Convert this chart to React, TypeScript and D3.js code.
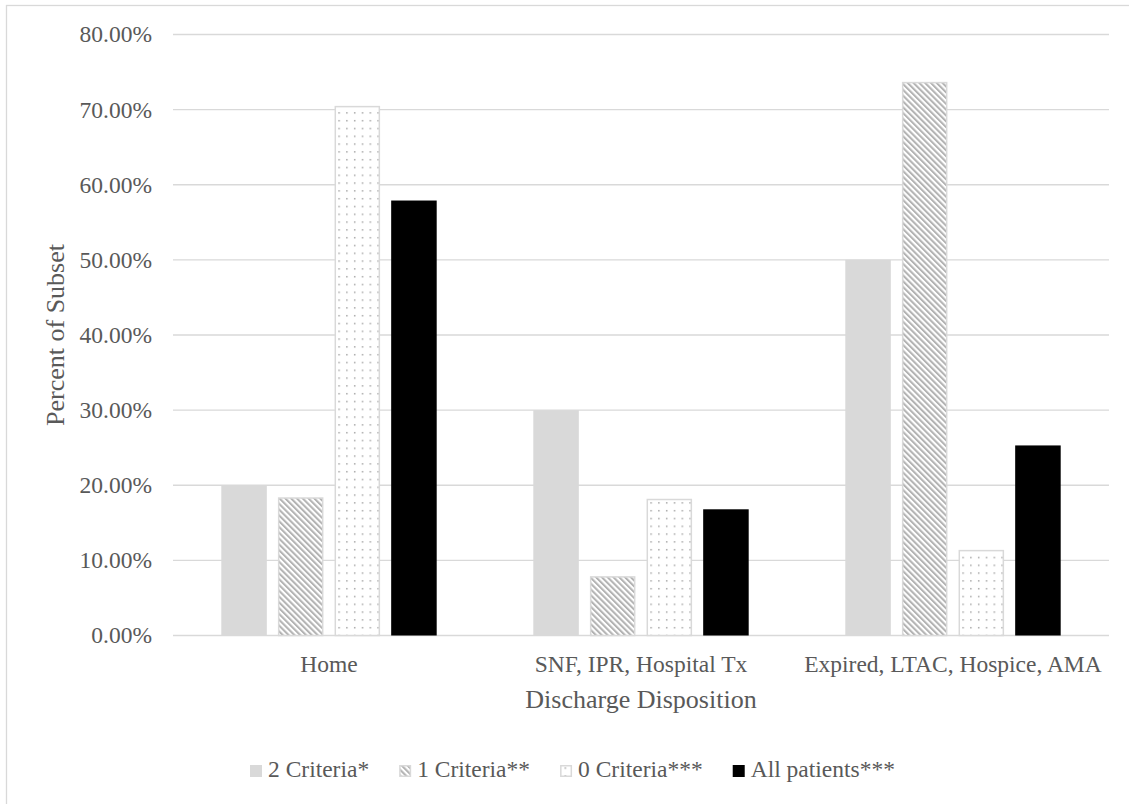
import React, { useEffect, useRef } from "react";
import * as d3 from "d3";

// Discharge disposition by number of criteria met (percent of each subset)
const categories = ["Home", "SNF, IPR, Hospital Tx", "Expired, LTAC, Hospice, AMA"];
const seriesNames = ["2 Criteria*", "1 Criteria**", "0 Criteria***", "All patients***"];
const twoCriteria = [20.0, 30.0, 50.0];
const oneCriteria = [18.4, 7.9, 73.7];
const zeroCriteria = [70.5, 18.2, 11.4];
const allPatients = [57.9, 16.8, 25.3];
const yTicks = [0, 10, 20, 30, 40, 50, 60, 70, 80];

const W = 1129;
const H = 804;
const FONT = '"Liberation Serif", "Times New Roman", serif';
const TEXT = "#595959";
const GRID = "#d9d9d9";

export default function App() {
  const ref = useRef<SVGSVGElement>(null);

  useEffect(() => {
    const svg = d3.select(ref.current);
    svg.selectAll("*").remove();

    const left = 173;
    const right = 1109;
    const top = 34.5;
    const bottom = 635.5;

    const values = [twoCriteria, oneCriteria, zeroCriteria, allPatients];

    // fill patterns
    const defs = svg.append("defs");
    const diag = defs
      .append("pattern")
      .attr("id", "diag")
      .attr("patternUnits", "userSpaceOnUse")
      .attr("width", 4.1)
      .attr("height", 4.1)
      .attr("patternTransform", "rotate(-45)");
    diag.append("rect").attr("width", 4.1).attr("height", 4.1).attr("fill", "#fff");
    diag.append("rect").attr("width", 2.05).attr("height", 4.1).attr("fill", "#b3b3b3");

    const dots = defs
      .append("pattern")
      .attr("id", "dots")
      .attr("patternUnits", "userSpaceOnUse")
      .attr("width", 7.8)
      .attr("height", 7.8);
    dots.append("rect").attr("width", 7.8).attr("height", 7.8).attr("fill", "#fff");
    dots.append("rect").attr("x", 3).attr("y", 3).attr("width", 1.4).attr("height", 1.4).attr("fill", "#9a9a9a");

    const fills = ["#d9d9d9", "url(#diag)", "url(#dots)", "#000"];
    const strokes = ["none", GRID, GRID, "none"];

    // chart frame
    svg
      .append("rect")
      .attr("x", 6.5)
      .attr("y", 5.5)
      .attr("width", W + 20)
      .attr("height", H + 20)
      .attr("fill", "#fff")
      .attr("stroke", GRID)
      .attr("stroke-width", 1.3);

    const y = d3.scaleLinear().domain([0, 80]).range([bottom, top]);
    const x0 = d3.scaleBand<string>().domain(categories).range([left, right]).padding(0);
    const x1 = d3
      .scaleBand<string>()
      .domain(seriesNames)
      .range([0, x0.bandwidth()])
      .paddingInner(0.196)
      .paddingOuter(0.853);

    // gridlines
    svg
      .append("g")
      .selectAll("line")
      .data(yTicks)
      .join("line")
      .attr("x1", left)
      .attr("x2", right)
      .attr("y1", (d) => y(d))
      .attr("y2", (d) => y(d))
      .attr("stroke", GRID)
      .attr("stroke-width", 1.3);

    // y tick labels
    svg
      .append("g")
      .selectAll("text")
      .data(yTicks)
      .join("text")
      .attr("x", 152)
      .attr("y", (d) => y(d))
      .attr("dy", "0.34em")
      .attr("text-anchor", "end")
      .attr("font-family", FONT)
      .attr("font-size", 23.5)
      .attr("fill", TEXT)
      .text((d) => d3.format(".2f")(d) + "%");

    // bars
    seriesNames.forEach((s, si) => {
      svg
        .append("g")
        .selectAll("rect")
        .data(categories.map((c, ci) => ({ c, v: values[si][ci] })))
        .join("rect")
        .attr("x", (d) => (x0(d.c) as number) + (x1(s) as number) + (strokes[si] === "none" ? 0 : 0.75))
        .attr("y", (d) => y(d.v) + (strokes[si] === "none" ? 0 : 0.75))
        .attr("width", x1.bandwidth() - (strokes[si] === "none" ? 0 : 1.5))
        .attr("height", (d) => bottom - y(d.v) - (strokes[si] === "none" ? 0 : 0.75))
        .attr("fill", fills[si])
        .attr("stroke", strokes[si])
        .attr("stroke-width", 1.5);
    });

    // category labels
    svg
      .append("g")
      .selectAll("text")
      .data(categories)
      .join("text")
      .attr("x", (d) => (x0(d) as number) + x0.bandwidth() / 2)
      .attr("y", 672)
      .attr("text-anchor", "middle")
      .attr("font-family", FONT)
      .attr("font-size", 23.5)
      .attr("fill", TEXT)
      .text((d) => d);

    // axis titles
    svg
      .append("text")
      .attr("x", (left + right) / 2)
      .attr("y", 708)
      .attr("text-anchor", "middle")
      .attr("font-family", FONT)
      .attr("font-size", 26)
      .attr("fill", TEXT)
      .text("Discharge Disposition");

    svg
      .append("text")
      .attr("transform", `translate(64,${(top + bottom) / 2}) rotate(-90)`)
      .attr("text-anchor", "middle")
      .attr("font-family", FONT)
      .attr("font-size", 26)
      .attr("fill", TEXT)
      .text("Percent of Subset");

    // legend
    const legend = svg.append("g");
    let lx = 250;
    seriesNames.forEach((s, si) => {
      legend
        .append("rect")
        .attr("x", lx + (strokes[si] === "none" ? 0 : 0.75))
        .attr("y", 765 + (strokes[si] === "none" ? 0 : 0.75))
        .attr("width", strokes[si] === "none" ? 12 : 10.5)
        .attr("height", strokes[si] === "none" ? 12 : 10.5)
        .attr("fill", fills[si])
        .attr("stroke", strokes[si])
        .attr("stroke-width", 1.5);
      const t = legend
        .append("text")
        .attr("x", lx + 18)
        .attr("y", 777)
        .attr("font-family", FONT)
        .attr("font-size", 23.5)
        .attr("fill", TEXT)
        .text(s);
      const w = (t.node() as SVGTextElement).getComputedTextLength();
      lx += 18 + w + 30;
    });
  }, []);

  return (
    <svg
      ref={ref}
      width={W}
      height={H}
      style={{ position: "absolute", left: 0, top: 0, background: "#fff" }}
    />
  );
}
